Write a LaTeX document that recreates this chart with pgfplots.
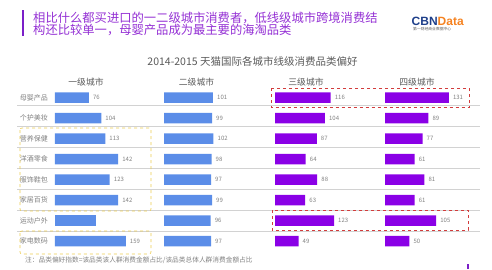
\documentclass[border=0pt]{standalone}
\usepackage{pgfplots}
\pgfplotsset{compat=1.18}
\usepackage{fontspec}
\setmainfont{Noto Sans CJK SC}
\newfontfamily\logofont{Liberation Sans}
\definecolor{barblue}{HTML}{5B8DE8}
\definecolor{barpurple}{HTML}{8A00E6}
\definecolor{labelgray}{HTML}{808080}
\definecolor{titlegray}{HTML}{5A5A5A}
\definecolor{sepgray}{HTML}{D2D2D2}
\definecolor{headpurple}{HTML}{9430D4}
\definecolor{barmark}{HTML}{7B1FC8}
\definecolor{boxyellow}{HTML}{EBCB4F}
\definecolor{boxred}{HTML}{D23C3C}
\definecolor{cbnnavy}{HTML}{1E3F8A}
\definecolor{cbnorange}{HTML}{F58220}
\pgfplotsset{panel/.style={anchor=north west, scale only axis, height=164pt,
  xmin=0, xmax=200, ymin=-0.5, ymax=7.5, y dir=reverse,
  xbar, bar width=10.5pt, bar shift=0pt,
  hide x axis, axis y line*=left, y axis line style={draw=none}, ytick style={draw=none},
  major tick length=0pt, clip=false, point meta=x,
  /pgf/number format/assume math mode=true,
  nodes near coords align={horizontal},
  every node near coord/.append style={anchor=west, inner sep=0pt, xshift=4pt,
     font=\fontsize{6}{6}\selectfont, text=labelgray}}}
\begin{document}
\begin{tikzpicture}
\path[use as bounding box] (0pt,0pt) rectangle (492pt,-269pt);
% heading
\fill[barmark] (21.5pt,-10pt) rectangle (24pt,-36pt);
\node[anchor=west, inner sep=0pt, text=headpurple, font=\fontsize{12.3}{12.3}\selectfont] at (33pt,-17.5pt) {相比什么都买进口的一二级城市消费者，低线级城市跨境消费结};
\node[anchor=west, inner sep=0pt, text=headpurple, font=\fontsize{12.3}{12.3}\selectfont] at (33pt,-29.5pt) {构还比较单一，母婴产品成为最主要的海淘品类};
% logo
\node[anchor=west, inner sep=0pt, font=\logofont\bfseries\fontsize{12}{12}\selectfont] at (411.5pt,-21pt) {\textcolor{cbnnavy}{CBN}\textcolor{cbnorange}{Data}};
\node[anchor=west, inner sep=0pt, text=titlegray, font=\fontsize{3.8}{3.8}\selectfont] at (413pt,-29.5pt) {第一财经商业数据中心};
% title
\node[text=titlegray, inner sep=0pt, font=\fontsize{10.5}{10.5}\selectfont] at (252.5pt,-61pt) {2014-2015 天猫国际各城市线级消费品类偏好};
% panel headers
\foreach \xx/\tt in {86/一级城市,196.5/二级城市,306/三级城市,417/四级城市}
  \node[text=titlegray, inner sep=0pt, font=\fontsize{8.8}{8.8}\selectfont] at (\xx pt,-82pt) {\tt};
% separators
\foreach \yy in {105,126,147,168,189,210,231}
  \draw[sepgray, line width=0.6pt] (17pt,-\yy pt) -- (480pt,-\yy pt);
% panel 1
\begin{axis}[panel, at={(55pt,-87.25pt)}, width=89pt,
  ytick={0,...,7},
  yticklabels={母婴产品,个护美妆,营养保健,洋酒零食,服饰鞋包,家居百货,运动户外,家电数码},
  yticklabel style={font=\fontsize{7}{7}\selectfont, text=labelgray, inner sep=0pt, xshift=-7pt}]
\addplot[fill=barblue, draw=none, nodes near coords] coordinates {(76,0) (104,1) (113,2) (142,3) (123,4) (142,5) (159,7)};
\addplot[fill=barblue, draw=none] coordinates {(92,6)};
\end{axis}
% panel 2
\begin{axis}[panel, at={(164pt,-87.25pt)}, width=97pt, hide y axis]
\addplot[fill=barblue, draw=none, nodes near coords] coordinates {(101,0) (99,1) (102,2) (98,3) (97,4) (99,5) (96,6) (97,7)};
\end{axis}
% panel 3
\begin{axis}[panel, at={(275pt,-87.25pt)}, width=96pt, hide y axis]
\addplot[fill=barpurple, draw=none, nodes near coords] coordinates {(116,0) (104,1) (87,2) (64,3) (88,4) (63,5) (123,6) (49,7)};
\end{axis}
% panel 4
\begin{axis}[panel, at={(385pt,-87.25pt)}, width=97.4pt, hide y axis]
\addplot[fill=barpurple, draw=none, nodes near coords] coordinates {(131,0) (89,1) (77,2) (61,3) (81,4) (61,5) (105,6) (50,7)};
\end{axis}
% highlight boxes
\draw[boxyellow, dashed, line width=0.6pt, rounded corners=2pt] (20pt,-128pt) rectangle (151pt,-211pt);
\draw[boxyellow, dashed, line width=0.6pt, rounded corners=2pt] (20pt,-231pt) rectangle (151pt,-254pt);
\draw[boxred, dashed, line width=0.7pt] (271pt,-88pt) rectangle (469pt,-107.5pt);
\draw[boxred, dashed, line width=0.7pt] (272pt,-210pt) rectangle (468pt,-230pt);
% footnote
\node[anchor=west, inner sep=0pt, text=labelgray, font=\fontsize{6.7}{6.7}\selectfont] at (25pt,-260pt) {注：品类偏好指数=该品类该人群消费金额占比/该品类总体人群消费金额占比};
\fill[barmark] (466.5pt,-264pt) rectangle (469pt,-269pt);
\end{tikzpicture}
\end{document}
